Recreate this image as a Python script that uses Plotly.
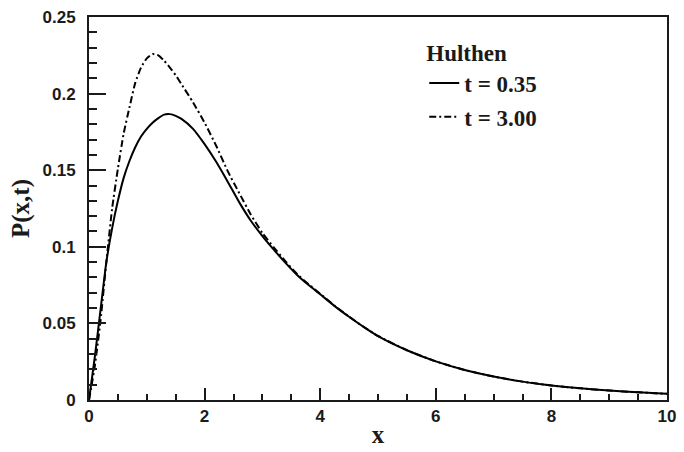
import plotly.graph_objects as go

x_vals = [0, 0.1, 0.2, 0.3, 0.4, 0.5, 0.6, 0.7, 0.8, 0.9, 1.0, 1.1, 1.2, 1.3, 1.4,
          1.5, 1.6, 1.8, 2.0, 2.2, 2.4, 2.6, 2.8, 3.0, 3.2, 3.4, 3.6, 3.8, 4.0,
          4.25, 4.5, 4.75, 5.0, 5.5, 6.0, 6.5, 7.0, 7.5, 8.0, 8.5, 9.0, 9.5, 10.0]

p_t035 = [0.0, 0.028, 0.059, 0.090, 0.112, 0.130, 0.145, 0.156, 0.165, 0.172, 0.177,
          0.181, 0.184, 0.1863, 0.1866, 0.1855, 0.1835, 0.177, 0.167, 0.1555, 0.1425,
          0.129, 0.117, 0.107, 0.098, 0.0895, 0.0816, 0.0750, 0.0690, 0.0613,
          0.0543, 0.0477, 0.0417, 0.0325, 0.0252, 0.0196, 0.0153, 0.0120, 0.0095,
          0.0076, 0.0062, 0.0050, 0.0040]

p_t300 = [0.0, 0.022, 0.052, 0.090, 0.125, 0.151, 0.174, 0.191, 0.207, 0.217, 0.223,
          0.2258, 0.2250, 0.2215, 0.2170, 0.2120, 0.2061, 0.1943, 0.1810, 0.1660,
          0.1494, 0.1350, 0.1210, 0.1090, 0.0995, 0.0905, 0.0822, 0.0755, 0.0693,
          0.0615, 0.0544, 0.0478, 0.0418, 0.0325, 0.0252, 0.0196, 0.0153, 0.0120,
          0.0095, 0.0076, 0.0062, 0.0050, 0.0040]

labels = ["t = 0.35", "t = 3.00"]
legend_title = "Hulthen"
x_ticks = [0, 2, 4, 6, 8, 10]
x_ticktext = ["0", "2", "4", "6", "8", "10"]
y_ticks = [0, 0.05, 0.1, 0.15, 0.2, 0.25]
y_ticktext = ["0", "0.05", "0.1", "0.15", "0.2", "0.25"]

ink = "#1a1a1a"
serif = "Liberation Serif, Times New Roman, serif"
sans = "Liberation Sans, Arial, sans-serif"

fig = go.Figure()
fig.add_trace(go.Scatter(x=x_vals, y=p_t035, mode="lines", name="<b>" + labels[0] + "</b>",
                         legendgroup="a",
                         line=dict(color="black", width=2, shape="spline", smoothing=0.5)))
fig.add_trace(go.Scatter(x=x_vals, y=p_t300, mode="lines", name="<b>" + labels[1] + "</b>",
                         legendgroup="b",
                         line=dict(color="black", width=2, shape="spline", smoothing=0.5,
                                   dash="7px,3px,2px,3px")))

tick_font = dict(family=sans, size=17, color=ink)
title_font = dict(family=serif, size=25, color=ink)

fig.update_layout(
    width=684, height=452,
    margin=dict(l=89, r=8, t=14, b=43),
    paper_bgcolor="white", plot_bgcolor="white",
    showlegend=True,
    legend=dict(
        x=0.58, y=0.962, xanchor="left", yanchor="top",
        bgcolor="rgba(0,0,0,0)",
        font=dict(family=serif, size=23, color=ink),
        title=dict(text="<b>" + legend_title + "</b>",
                   font=dict(family=serif, size=23, color=ink)),
        traceorder="grouped", tracegroupgap=1, itemwidth=30,
    ),
)

fig.update_xaxes(
    range=[0, 10], tickvals=x_ticks, ticktext=["<b>" + t + "</b>" for t in x_ticktext],
    ticks="inside", ticklen=12, tickwidth=1.5, tickcolor=ink,
    minor=dict(dtick=0.5, ticks="inside", ticklen=6, tickwidth=1.5, tickcolor=ink),
    showline=True, linecolor=ink, linewidth=2, mirror=True,
    showgrid=False, zeroline=False,
    tickfont=tick_font,
    title=dict(text="<b>x</b>", font=title_font, standoff=0),
)
fig.update_yaxes(
    range=[0, 0.25], tickvals=y_ticks, ticktext=["<b>" + t + "</b>" for t in y_ticktext],
    ticks="inside", ticklen=17, tickwidth=1.5, tickcolor=ink,
    minor=dict(dtick=0.01, ticks="inside", ticklen=8, tickwidth=1.5, tickcolor=ink),
    showline=True, linecolor=ink, linewidth=2, mirror=True,
    showgrid=False, zeroline=False,
    tickfont=tick_font, ticklabelstandoff=8,
    title=dict(text="<b>P(x,t)</b>", font=title_font, standoff=6),
)

fig.write_html("out.html")
